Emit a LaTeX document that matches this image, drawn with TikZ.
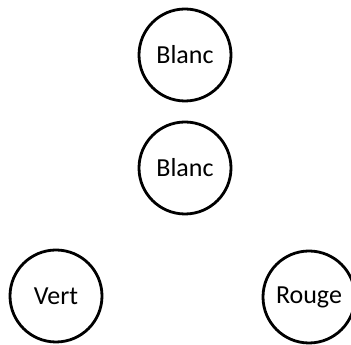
\documentclass[tikz,border=0pt]{standalone}
\usepackage{fontspec}
\setmainfont{Carlito}
\usepackage{tikz}
\tikzset{
  ball/.style={draw=black, circle, line width=2.8pt, minimum size=92pt, inner sep=0pt, font=\fontsize{26}{30}\selectfont},
}

\begin{document}
\begin{tikzpicture}[x=1pt, y=1pt]
  \useasboundingbox (0,0) rectangle (351,345);

  \node[ball] (blancA) at (185,290) {Blanc};
  \node[ball] (blancB) at (185,177) {Blanc};
  \node[ball] (vert) at (56,49) {Vert};
  \node[ball] (rouge) at (309,48) {Rouge};
\end{tikzpicture}
\end{document}
